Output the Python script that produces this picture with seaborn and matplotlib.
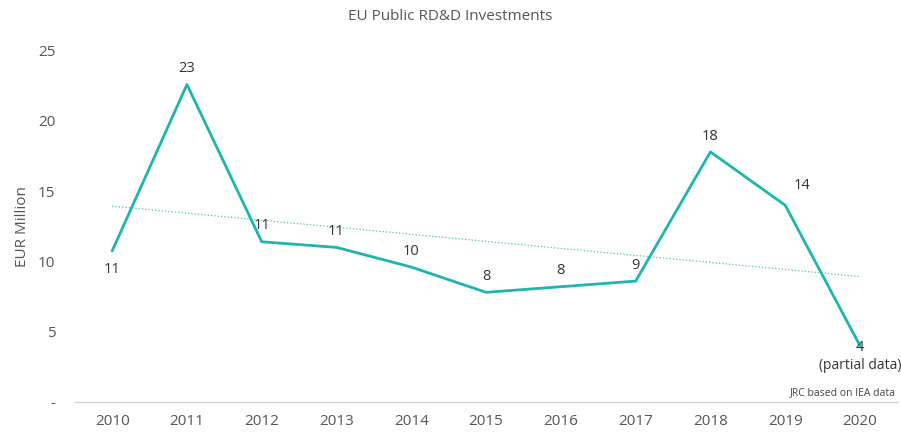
import numpy as np
import pandas as pd
import matplotlib
matplotlib.use('Agg')
import matplotlib.pyplot as plt
import seaborn as sns

# values
years = [2010, 2011, 2012, 2013, 2014, 2015, 2016, 2017, 2018, 2019, 2020]
invest = [10.75, 22.6, 11.4, 11.0, 9.6, 7.8, 8.2, 8.6, 17.8, 14.0, 4.0]
yticks = [0, 5, 10, 15, 20, 25]
ytick_labels = ['-', '5', '10', '15', '20', '25']

df = pd.DataFrame({'year': years, 'value': invest})

sns.set_theme(style='white')
plt.rcParams['font.family'] = ['Open Sans', 'DejaVu Sans']

teal = '#1db5ae'
grey = '#555555'
lab = '#333333'

fig = plt.figure(figsize=(9.01, 4.34), dpi=100)
ax = fig.add_axes([0.083, 0.074, 0.913, 0.809])

# linear trend line (dotted)
sns.regplot(data=df, x='year', y='value', ax=ax, scatter=False, ci=None,
            line_kws={'color': teal, 'lw': 0.9, 'ls': ':', 'alpha': 0.8})
sns.lineplot(data=df, x='year', y='value', ax=ax, color=teal, lw=2)

# value labels
for yr, v in zip(years, invest):
    txt = f'{round(v):d}'
    if yr == 2010:
        ax.annotate(txt, (yr, v), xytext=(0, -8), textcoords='offset points',
                    ha='center', va='top', fontsize=10.5, color=lab)
    elif yr == 2020:
        ax.annotate(txt, (yr, v), xytext=(0, -1), textcoords='offset points',
                    ha='center', va='center', fontsize=10.5, color=lab)
    elif yr == 2019:
        ax.annotate(txt, (yr, v), xytext=(12, 14), textcoords='offset points',
                    ha='center', va='center', fontsize=10.5, color=lab)
    else:
        ax.annotate(txt, (yr, v), xytext=(0, 6), textcoords='offset points',
                    ha='center', va='bottom', fontsize=10.5, color=lab)
ax.annotate('(partial data)', (2020, invest[-1]), xytext=(30, -14), textcoords='offset points',
            ha='right', va='center', fontsize=10, color=lab)

ax.text(0.998, 0.027, 'JRC based on IEA data', transform=ax.transAxes,
        ha='right', va='center', fontsize=7.5, color='#444444')

ax.set_xlim(2009.5, 2020.5)
ax.set_ylim(0, 25)
ax.set_xticks(years)
ax.set_xticklabels([str(y) for y in years])
ax.set_yticks(yticks)
ax.set_yticklabels(ytick_labels)
ax.tick_params(axis='both', length=0, labelsize=11, labelcolor=grey)
ax.tick_params(axis='y', pad=14)
ax.tick_params(axis='x', pad=9)
ax.set_xlabel('')
ax.set_ylabel('EUR Million', fontsize=11, color=grey, labelpad=6)

for s in ['top', 'right', 'left']:
    ax.spines[s].set_visible(False)
ax.spines['bottom'].set_color('#d0d0d0')
ax.spines['bottom'].set_linewidth(1)

fig.text(0.5, 0.962, 'EU Public RD&D Investments', ha='center', va='center',
         fontsize=11, color=grey)

fig.savefig('out.png', dpi=100)
